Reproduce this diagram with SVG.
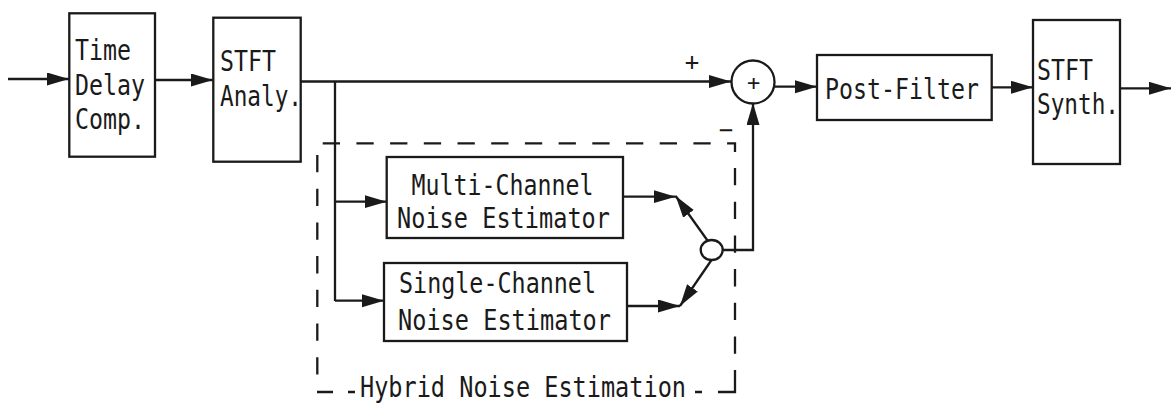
<svg xmlns="http://www.w3.org/2000/svg" width="1173" height="407" viewBox="0 0 1173 407">
<style>
.box{fill:#fff;stroke:#1a1a1a;stroke-width:2.3}
.ln{fill:none;stroke:#1a1a1a;stroke-width:2.3}
.arr{marker-end:url(#ah)}
.dash{fill:none;stroke:#1a1a1a;stroke-width:2.3;stroke-dasharray:17.3 16.4}
.t{font-family:"DejaVu Sans Mono","Liberation Mono",monospace;font-size:28.5px;fill:#1a1a1a}
.s{font-family:"DejaVu Sans Mono","Liberation Mono",monospace;font-size:24px;fill:#1a1a1a;text-anchor:middle}
</style>
<defs>
<marker id="ah" markerUnits="userSpaceOnUse" markerWidth="23" markerHeight="14" refX="22" refY="6.5" orient="auto">
<path d="M0,0 L22,6.5 L0,13 z" fill="#1a1a1a"/>
</marker>
</defs>
<rect width="1173" height="407" fill="#fff"/>

<g id="hybrid-group">
<path class="dash" d="M322.7 143.3 H735 V152"/>
<path class="dash" d="M735 168 V360"/>
<path class="ln" d="M735 370 V392 H718"/>
<path class="dash" d="M317.3 155 V375"/>
<path class="ln" d="M317 392 H333 M348 392 H355 M695 392 H702"/>
<text class="t" x="360" y="397" textLength="326" lengthAdjust="spacingAndGlyphs">Hybrid Noise Estimation</text>
</g>

<g id="connectors">
<path class="ln arr" d="M8 79 H69"/>
<path class="ln arr" d="M155 80 H213"/>
<path class="ln arr" d="M300 81.5 H731"/>
<path class="ln" d="M335 81.5 V301"/>
<path class="ln arr" d="M335 201.7 H386.7"/>
<path class="ln arr" d="M335 300.7 H384"/>
<path class="ln arr" d="M623 196.7 H675.7"/>
<path class="ln arr" d="M627 306 H680"/>
<path class="ln arr" d="M707.5 240.5 L675.7 196"/>
<path class="ln arr" d="M711.5 260 L680 306"/>
<path class="ln arr" d="M722.7 250 H753 V103"/>
<path class="ln arr" d="M775 86.7 H817"/>
<path class="ln arr" d="M992 87.3 H1033"/>
<path class="ln arr" d="M1120 88.3 H1171"/>
</g>

<g id="time-delay">
<rect class="box" x="69.3" y="13.3" width="85.7" height="143.4"/>
<text class="t" x="75" y="59.5" textLength="56" lengthAdjust="spacingAndGlyphs">Time</text>
<text class="t" x="75" y="95" textLength="70" lengthAdjust="spacingAndGlyphs">Delay</text>
<text class="t" x="75" y="129.3" textLength="70" lengthAdjust="spacingAndGlyphs">Comp.</text>
</g>

<g id="stft-analy">
<rect class="box" x="213.3" y="17.7" width="87.4" height="144"/>
<text class="t" x="220" y="71" textLength="56" lengthAdjust="spacingAndGlyphs">STFT</text>
<text class="t" x="220" y="106" textLength="82" lengthAdjust="spacingAndGlyphs">Analy.</text>
</g>

<g id="multi-channel">
<rect class="box" x="386.7" y="157" width="236.3" height="81"/>
<text class="t" x="411.5" y="195" textLength="182" lengthAdjust="spacingAndGlyphs">Multi-Channel</text>
<text class="t" x="397" y="228" textLength="213" lengthAdjust="spacingAndGlyphs">Noise Estimator</text>
</g>

<g id="single-channel">
<rect class="box" x="384" y="263" width="243" height="78"/>
<text class="t" x="399" y="293" textLength="197" lengthAdjust="spacingAndGlyphs">Single-Channel</text>
<text class="t" x="398" y="330" textLength="213" lengthAdjust="spacingAndGlyphs">Noise Estimator</text>
</g>

<g id="switch">
<ellipse class="box" cx="711.7" cy="250" rx="11" ry="10"/>
</g>

<g id="sum">
<circle class="box" cx="753" cy="82" r="21.5"/>
<text class="s" x="753.5" y="90" style="font-size:22px">+</text>
<text class="s" x="692" y="70">+</text>
<text class="s" x="726" y="138">−</text>
</g>

<g id="post-filter">
<rect class="box" x="817" y="55" width="174.7" height="65"/>
<text class="t" x="825" y="98.5" textLength="154" lengthAdjust="spacingAndGlyphs">Post-Filter</text>
</g>

<g id="stft-synth">
<rect class="box" x="1033" y="20" width="87" height="144"/>
<text class="t" x="1037" y="80" textLength="56" lengthAdjust="spacingAndGlyphs">STFT</text>
<text class="t" x="1037" y="113.5" textLength="82" lengthAdjust="spacingAndGlyphs">Synth.</text>
</g>
</svg>
